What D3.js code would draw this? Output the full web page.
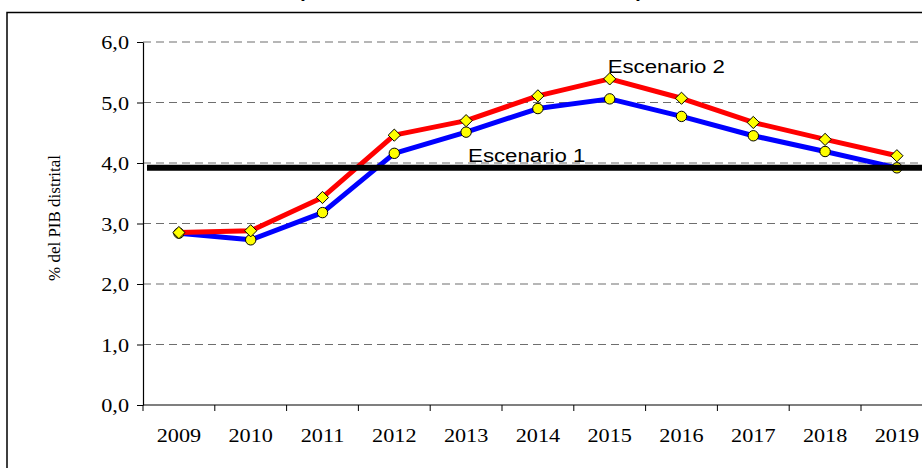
<!DOCTYPE html>
<html lang="es">
<head>
<meta charset="UTF-8">
<title>Escenarios % del PIB distrital</title>
<script src="https://d3js.org/d3.v7.min.js"></script>
<style>
    body { margin: 0; background: #fff; }
    svg { display: block; }
</style>
</head>
<body>
<div id="chart"></div>
<script>
    // data
    const years = ["2009", "2010", "2011", "2012", "2013", "2014", "2015", "2016", "2017", "2018", "2019"];
    const escenario1 = [2.84, 2.73, 3.18, 4.16, 4.51, 4.90, 5.06, 4.77, 4.45, 4.19, 3.92];
    const escenario2 = [2.85, 2.88, 3.43, 4.46, 4.70, 5.11, 5.39, 5.07, 4.67, 4.39, 4.12];
    const limite = 3.92;
    const yTicks = [0, 1, 2, 3, 4, 5, 6];
    const titleText = "(Como % del PIB distrital)";
    const yLabel = "% del PIB distrital";

    const W = 922, H = 468;
    const plotLeft = 143, plotTop = 42, plotBottom = 405, step = 71.8;
    const sx = 1.17; // reference text is a bit wide

    const svg = d3.select("#chart").append("svg")
        .attr("width", W).attr("height", H);

    // outer chart frame (right and bottom edges fall outside the picture)
    svg.append("rect")
        .attr("x", 7).attr("y", 12.5)
        .attr("width", 1000).attr("height", 600)
        .attr("fill", "none").attr("stroke", "#000").attr("stroke-width", 1.5);

    // title, mostly cut off at the top
    svg.append("text")
        .attr("x", 298).attr("y", -3.5)
        .attr("textLength", 345).attr("lengthAdjust", "spacing")
        .style("font-family", "Arial, 'Liberation Sans', sans-serif")
        .style("font-weight", "bold").style("font-size", "20px")
        .text(titleText);

    const x = d3.scaleBand().domain(years).range([plotLeft, plotLeft + years.length * step]);
    const y = d3.scaleLinear().domain([0, 6]).range([plotBottom, plotTop]);
    const cx = d => x(d) + x.bandwidth() / 2;

    // grid lines
    svg.append("g").selectAll("line")
        .data(yTicks.filter(d => d > 0))
        .enter().append("line")
        .attr("x1", plotLeft).attr("x2", W)
        .attr("y1", d => y(d)).attr("y2", d => y(d))
        .attr("stroke", "#6e6e6e").attr("stroke-width", 1.2)
        .attr("stroke-dasharray", "8,5");

    // axes
    const fmt = d => d3.format(".1f")(d).replace(".", ",");
    const yAxis = svg.append("g")
        .attr("transform", `translate(${plotLeft},0)`)
        .call(d3.axisLeft(y).tickValues(yTicks).tickFormat(fmt).tickSizeOuter(0).tickPadding(14));
    const xAxis = svg.append("g")
        .attr("transform", `translate(0,${plotBottom})`)
        .call(d3.axisBottom(x).tickSize(0).tickPadding(24));

    // x ticks sit on the category boundaries
    xAxis.selectAll(".bound")
        .data(d3.range(years.length + 1))
        .enter().append("line")
        .attr("class", "bound")
        .attr("x1", i => plotLeft + i * step).attr("x2", i => plotLeft + i * step)
        .attr("y1", 0).attr("y2", 6)
        .attr("stroke", "#000");

    [yAxis, xAxis].forEach(g => {
        g.select(".domain").attr("stroke", "#000").attr("stroke-width", 1.2);
        g.selectAll(".tick line").attr("stroke", "#000");
        g.selectAll("text")
            .attr("fill", "#000")
            .style("font-family", "'Liberation Serif', 'Times New Roman', serif")
            .style("font-size", "19px")
            .attr("transform", `scale(${sx},1)`);
    });
    yAxis.selectAll("text").attr("dy", "0.36em").attr("x", -14 / sx);
    xAxis.select(".domain").attr("d", `M${plotLeft},0H${W}`);

    // y axis title
    svg.append("text")
        .attr("transform", "translate(60,218) rotate(-90)")
        .attr("text-anchor", "middle")
        .style("font-family", "'Liberation Serif', 'Times New Roman', serif")
        .style("font-size", "17px")
        .text(yLabel);

    const line = d3.line().x((d, i) => cx(years[i])).y(d => y(d));

    // escenario 1 (blue, circles)
    svg.append("path").datum(escenario1)
        .attr("d", line).attr("fill", "none")
        .attr("stroke", "#0000ff").attr("stroke-width", 5)
        .attr("stroke-linejoin", "round");
    svg.append("g").selectAll("circle")
        .data(escenario1).enter().append("circle")
        .attr("cx", (d, i) => cx(years[i])).attr("cy", d => y(d))
        .attr("r", 5.2).attr("fill", "#ffff00")
        .attr("stroke", "#000").attr("stroke-width", 1);

    // escenario 2 (red, diamonds)
    svg.append("path").datum(escenario2)
        .attr("d", line).attr("fill", "none")
        .attr("stroke", "#ff0000").attr("stroke-width", 5)
        .attr("stroke-linejoin", "round");
    svg.append("g").selectAll("path")
        .data(escenario2).enter().append("path")
        .attr("d", d3.symbol(d3.symbolDiamond2, 95))
        .attr("transform", (d, i) => `translate(${cx(years[i])},${y(d)})`)
        .attr("fill", "#ffff00")
        .attr("stroke", "#000").attr("stroke-width", 1);

    // black reference line
    svg.append("line")
        .attr("x1", plotLeft + 4).attr("x2", W)
        .attr("y1", y(limite)).attr("y2", y(limite))
        .attr("stroke", "#000").attr("stroke-width", 6);

    // series labels
    const lab = (txt, xv, yv) => svg.append("text")
        .attr("transform", `translate(${xv},${yv}) scale(${sx},1)`)
        .style("font-family", "Arial, 'Liberation Sans', sans-serif")
        .style("font-size", "19px")
        .attr("fill", "#000")
        .text(txt);
    lab("Escenario 1", cx("2013") + 2, y(limite) - 6);
    lab("Escenario 2", cx("2015") - 2, y(escenario2[6]) - 6);
</script>
</body>
</html>
